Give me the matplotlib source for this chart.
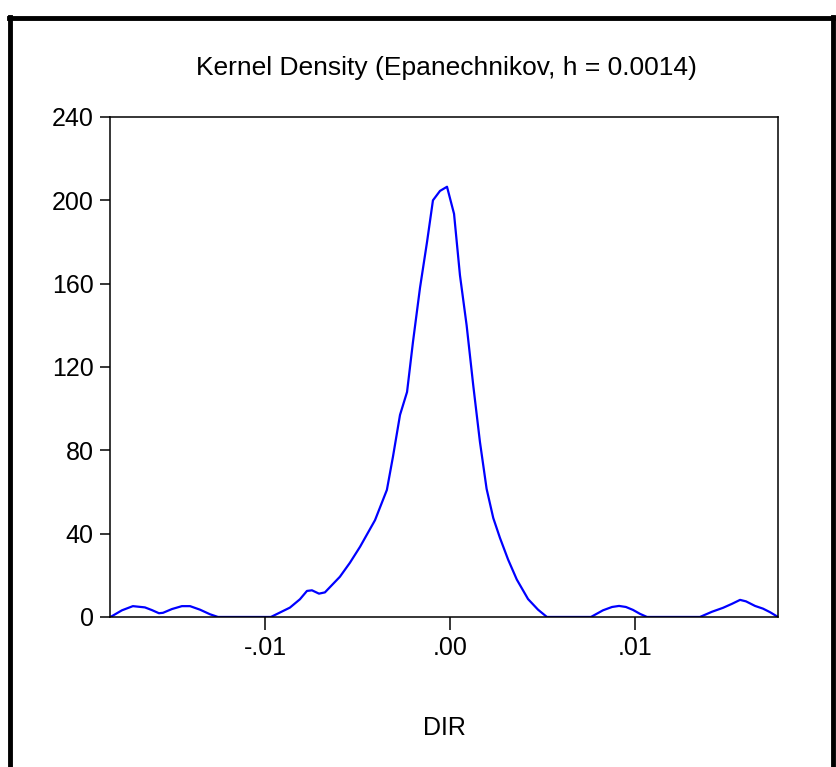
import matplotlib.pyplot as plt
from matplotlib.lines import Line2D

# kernel density of DIR
dir_x = [-0.01835, -0.01773, -0.01714, -0.01649, -0.01611, -0.01573, -0.01551,
         -0.01503, -0.01449, -0.01405, -0.01351, -0.01297, -0.01254, -0.00968,
         -0.00865, -0.00811, -0.00773, -0.00746, -0.00708, -0.00676, -0.00595,
         -0.00541, -0.00486, -0.00405, -0.00341, -0.00308, -0.00270, -0.00232,
         -0.00200, -0.00162, -0.00124, -0.00092, -0.00054, -0.00016, 0.00022,
         0.00054, 0.00090, 0.00126, 0.00162, 0.00198, 0.00234, 0.00270, 0.00314,
         0.00361, 0.00422, 0.00476, 0.00524, 0.00762, 0.00827, 0.00876, 0.00914,
         0.00951, 0.00989, 0.01027, 0.01065, 0.01351, 0.01416, 0.01476, 0.01524,
         0.01568, 0.01600, 0.01649, 0.01692, 0.01730, 0.01773]
density = [0, 3.2, 5.2, 4.6, 3.3, 1.8, 2.0, 3.8, 5.2, 5.2, 3.5, 1.3, 0, 0,
           4.5, 8.5, 12.5, 12.8, 11.2, 11.8, 19.3, 26, 33.7, 46.5, 61, 77, 97,
           108, 132, 158, 180, 200, 204.5, 206.5, 193.5, 164, 140, 111, 84,
           61.5, 47.5, 38, 27.6, 18.0, 8.6, 3.5, 0, 0, 3.2, 4.8, 5.3, 4.8, 3.4,
           1.5, 0, 0, 2.5, 4.4, 6.3, 8.2, 7.5, 5.3, 4.0, 2.3, 0]

x_ticks = [-0.01, 0.0, 0.01]
x_ticklabels = ['-.01', '.00', '.01']
y_ticks = [0, 40, 80, 120, 160, 200, 240]

plt.rcParams['font.family'] = ['Liberation Sans', 'DejaVu Sans']

fig = plt.figure(figsize=(8.37, 7.67), dpi=100)
ax = fig.add_axes([0.132, 0.1956, 0.7975, 0.6519])

ax.plot(dir_x, density, color='#0000ff', lw=1.6)
ax.set_xlim(-0.01835, 0.01773)
ax.set_ylim(0, 240)

ax.set_xticks(x_ticks)
ax.set_xticklabels(x_ticklabels)
ax.set_yticks(y_ticks)
ax.tick_params(axis='both', labelsize=18, direction='out', width=1.1, color='black')
ax.tick_params(axis='x', length=9, pad=5)
ax.tick_params(axis='y', length=7, pad=5)
for s in ax.spines.values():
    s.set_linewidth(1.1)

fig.text(0.533, 1 - 75 / 767, 'Kernel Density (Epanechnikov, h = 0.0014)',
         fontsize=19, ha='center', va='baseline')
ax.set_xlabel('DIR', fontsize=18, labelpad=40)

# black frame around the graph
fig.add_artist(Line2D([0.0125, 0.0125], [0, 0.978], transform=fig.transFigure, color='black', lw=3.5))
fig.add_artist(Line2D([0.0105, 0.9965], [0.977, 0.977], transform=fig.transFigure, color='black', lw=3.5))
fig.add_artist(Line2D([0.9955, 0.9955], [0, 0.978], transform=fig.transFigure, color='black', lw=3.5))

fig.savefig('out.png', dpi=100)
